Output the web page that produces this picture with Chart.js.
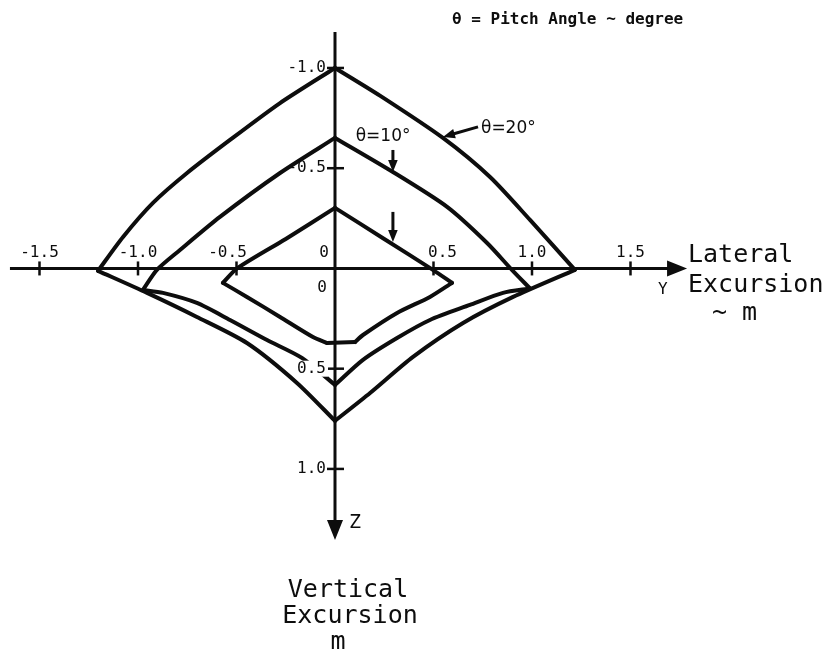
<!DOCTYPE html>
<html>
<head>
<meta charset="utf-8">
<title>Lateral / vertical excursion vs pitch angle</title>
<script src="https://cdn.jsdelivr.net/npm/chart.js@4"></script>
<style>
  html, body { margin: 0; padding: 0; background: #fff; }
  #wrap { width: 834px; height: 665px; }
</style>
</head>
<body>
<div id="wrap"><canvas id="excursionChart" width="834" height="665"></canvas></div>
<script>
// Values. Y = lateral excursion (m), Z = vertical excursion (m, down is positive)
// each envelope is a closed loop starting at the top point and going clockwise

const theta20Y = [0, 0.228, 0.548, 0.787, 0.990, 1.218, 0.904, 0.650, 0.396, 0.178, 0, -0.193, -0.447, -0.701, -0.954, -1.203, -1.076, -0.924, -0.751, -0.533, -0.279, 0];
const theta20Z = [-1.0, -0.862, -0.651, -0.456, -0.242, 0.007, 0.142, 0.272, 0.441, 0.621, 0.760, 0.571, 0.372, 0.242, 0.122, 0.012, -0.157, -0.327, -0.476, -0.641, -0.825, -1.0];
const theta20Corners = [0, 5, 10, 15, 21];   // top, right tip, bottom, left tip, top

const theta10Y = [0, 0.294, 0.569, 0.772, 0.898, 0.990, 0.853, 0.685, 0.482, 0.315, 0.142, 0, -0.168, -0.345, -0.533, -0.701, -0.873, -0.975, -0.904, -0.787, -0.584, -0.279, 0];
const theta10Z = [-0.651, -0.481, -0.307, -0.127, 0.007, 0.100, 0.122, 0.182, 0.257, 0.347, 0.456, 0.581, 0.446, 0.357, 0.257, 0.172, 0.122, 0.107, 0.007, -0.092, -0.257, -0.476, -0.651];
const theta10Corners = [0, 5, 11, 17, 22];

// innermost loop has no label in the figure, only an arrow
const innerY = [0, 0.250, 0.497, 0.594, 0.482, 0.315, 0.142, 0.102, -0.041, -0.112, -0.279, -0.447, -0.569, -0.497, -0.250, 0];
const innerZ = [-0.302, -0.147, 0.007, 0.072, 0.142, 0.222, 0.332, 0.367, 0.372, 0.342, 0.242, 0.142, 0.072, 0.000, -0.147, -0.302];
const innerCorners = [0, 3, 7, 8, 12, 15];

const seriesNames = ['θ=20°', 'θ=10°', ''];

const yTicks = [-1.5, -1.0, -0.5, 0.5, 1.0, 1.5];
const yTickLabels = ['-1.5', '-1.0', '-0.5', '0.5', '1.0', '1.5'];
const zTicks = [-1.0, -0.5, 0.5, 1.0];
const zTickLabels = ['-1.0', '-0.5', '0.5', '1.0'];

const ink = '#0d0d0d';
const toPoints = (ys, zs) => ys.map((v, i) => ({ x: v, y: zs[i] }));

// split a loop at its sharp corners so every smooth piece keeps its own curve
function loopPieces(name, ys, zs, corners) {
  const pts = toPoints(ys, zs);
  const out = [];
  for (let i = 0; i < corners.length - 1; i++) {
    out.push({ label: name, data: pts.slice(corners[i], corners[i + 1] + 1), ...loopStyle });
  }
  return out;
}

function arrow(ctx, x1, y1, x2, y2, head) {
  const a = Math.atan2(y2 - y1, x2 - x1);
  ctx.beginPath();
  ctx.moveTo(x1, y1);
  ctx.lineTo(x2 - Math.cos(a) * head * 0.8, y2 - Math.sin(a) * head * 0.8);
  ctx.stroke();
  ctx.beginPath();
  ctx.moveTo(x2, y2);
  ctx.lineTo(x2 - Math.cos(a) * head + Math.sin(a) * head * 0.4, y2 - Math.sin(a) * head - Math.cos(a) * head * 0.4);
  ctx.lineTo(x2 - Math.cos(a) * head - Math.sin(a) * head * 0.4, y2 - Math.sin(a) * head + Math.cos(a) * head * 0.4);
  ctx.closePath();
  ctx.fill();
}

// draws the crossing axes, ticks and all the text of the figure
const crossAxes = {
  id: 'crossAxes',
  beforeDatasetsDraw(chart) {
    const { ctx, scales: { x, y } } = chart;
    const x0 = x.getPixelForValue(0), y0 = y.getPixelForValue(0);
    ctx.save();
    ctx.strokeStyle = ink;
    ctx.fillStyle = ink;
    ctx.lineWidth = 3;
    // lateral axis with arrow
    arrow(ctx, x.getPixelForValue(-1.65), y0, x.getPixelForValue(1.787), y0, 20);
    // vertical axis with arrow (down)
    arrow(ctx, x0, y.getPixelForValue(-1.18), x0, y.getPixelForValue(1.354), 20);

    ctx.lineWidth = 2.5;
    yTicks.forEach(v => {
      const px = x.getPixelForValue(v);
      ctx.beginPath(); ctx.moveTo(px, y0 - 7); ctx.lineTo(px, y0 + 7); ctx.stroke();
    });
    zTicks.forEach(v => {
      const py = y.getPixelForValue(v);
      ctx.beginPath(); ctx.moveTo(x0 - 8, py); ctx.lineTo(x0 + 9, py); ctx.stroke();
    });
    ctx.restore();
  },
  afterDatasetsDraw(chart) {
    const { ctx, scales: { x, y } } = chart;
    const x0 = x.getPixelForValue(0), y0 = y.getPixelForValue(0);
    ctx.save();
    ctx.fillStyle = ink;
    ctx.strokeStyle = ink;

    ctx.font = '16px "DejaVu Sans Mono"';
    ctx.textBaseline = 'middle';
    ctx.textAlign = 'center';
    yTicks.forEach((v, i) => {
      const nudge = v === -0.5 ? -9 : (v === 0.5 ? 9 : 0);
      ctx.fillText(yTickLabels[i], x.getPixelForValue(v) + nudge, y0 - 16);
    });
    ctx.fillText('0', x0 - 11, y0 - 16);
    ctx.fillText('0', x0 - 13, y0 + 19);

    ctx.textAlign = 'right';
    zTicks.forEach((v, i) => {
      const py = y.getPixelForValue(v);
      const w = ctx.measureText(zTickLabels[i]).width;
      if (v === 0.5) {
        ctx.fillStyle = '#fff';
        ctx.fillRect(x0 - 9 - w - 2, py - 8, w + 4, 16);
        ctx.fillStyle = ink;
      }
      ctx.fillText(zTickLabels[i], x0 - 9, py);
    });

    ctx.textAlign = 'left';
    ctx.fillText('Y', x.getPixelForValue(1.64), y0 + 21);
    ctx.font = '20px "DejaVu Sans Mono"';
    ctx.fillText('Z', x0 + 14, y.getPixelForValue(1.27));

    // axis titles
    ctx.font = '25px "DejaVu Sans Mono"';
    ctx.fillText('Lateral', 688, 255);
    ctx.fillText('Excursion', 688, 285);
    ctx.fillText('~ m', 712, 313);
    ctx.textAlign = 'center';
    ctx.fillText('Vertical', 348, 590);
    ctx.fillText('Excursion', 350, 616);
    ctx.fillText('m', 338, 642);

    // note at the top
    ctx.textAlign = 'left';
    ctx.font = 'bold 16px "DejaVu Sans Mono"';
    ctx.fillText('θ = Pitch Angle ~ degree', 452, 20);

    // curve labels and pointer arrows
    ctx.font = '17px "DejaVu Sans"';
    ctx.fillText(seriesNames[0], x.getPixelForValue(0.741), y.getPixelForValue(-0.70));
    ctx.textAlign = 'center';
    ctx.fillText(seriesNames[1], x.getPixelForValue(0.244), y.getPixelForValue(-0.656));
    ctx.lineWidth = 3;
    arrow(ctx, x.getPixelForValue(0.726), y.getPixelForValue(-0.706), x.getPixelForValue(0.548), y.getPixelForValue(-0.656), 12);
    arrow(ctx, x.getPixelForValue(0.294), y.getPixelForValue(-0.591), x.getPixelForValue(0.294), y.getPixelForValue(-0.481), 12);
    arrow(ctx, x.getPixelForValue(0.294), y.getPixelForValue(-0.282), x.getPixelForValue(0.294), y.getPixelForValue(-0.132), 12);
    ctx.restore();
  }
};

const loopStyle = { showLine: true, borderColor: ink, borderWidth: 4, pointRadius: 0, fill: false, tension: 0.25, borderJoinStyle: 'round', borderCapStyle: 'round' };

new Chart(document.getElementById('excursionChart'), {
  type: 'scatter',
  data: {
    datasets: [
      ...loopPieces(seriesNames[0], theta20Y, theta20Z, theta20Corners),
      ...loopPieces(seriesNames[1], theta10Y, theta10Z, theta10Corners),
      ...loopPieces('inner', innerY, innerZ, innerCorners),
    ],
  },
  options: {
    responsive: false,
    animation: false,
    layout: { padding: 0 },
    plugins: { legend: { display: false }, tooltip: { enabled: false } },
    scales: {
      x: { type: 'linear', display: false, min: -1.7005, max: 2.533 },
      y: { type: 'linear', display: false, reverse: true, min: -1.339, max: 1.978 },
    },
  },
  plugins: [crossAxes],
});
</script>
</body>
</html>
